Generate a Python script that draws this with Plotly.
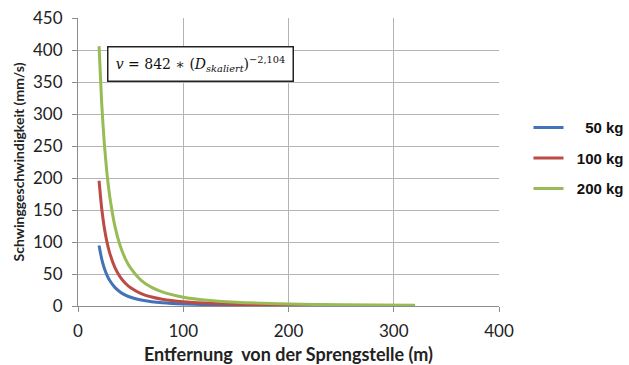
import plotly.graph_objects as go

# Distance from the blast point (m)
entfernung = [20, 22.5, 25, 27.5, 30, 35, 40, 45, 50, 60, 70, 80, 100, 120, 150, 200, 250, 320]

# Peak particle velocity (mm/s) per charge weight
v_50kg = [94.4, 73.7, 59.0, 48.3, 40.2, 29.1, 22.0, 17.1, 13.7, 9.35, 6.77, 5.11, 3.19, 2.18, 1.36, 0.74, 0.46, 0.28]
v_100kg = [195.7, 152.8, 122.4, 100.2, 83.5, 60.4, 45.6, 35.6, 28.5, 19.4, 14.0, 10.6, 6.62, 4.51, 2.82, 1.54, 0.96, 0.57]
v_200kg = [406.0, 316.9, 253.9, 207.8, 173.1, 125.2, 94.6, 73.8, 59.1, 40.2, 29.1, 22.0, 13.7, 9.36, 5.85, 3.20, 2.00, 1.19]

series = [
    ("\u2007\u00a0\u00a050 kg", v_50kg, "#4272B8"),
    ("\u00a0\u00a0100 kg", v_100kg, "#BC4A45"),
    ("\u00a0\u00a0200 kg", v_200kg, "#97BB55"),
]

fig = go.Figure()
for i, (name, vals, color) in enumerate(series):
    fig.add_trace(go.Scatter(
        x=entfernung, y=vals, name=name, mode="lines",
        line=dict(color=color, width=3, shape="spline", smoothing=0.6),
        legendgroup=f"g{i}",
    ))

grid = "#B4B4B4"
axis_font = dict(family="Lato", size=17, color="#222222")

fig.update_layout(
    width=629, height=365,
    margin=dict(l=78, r=130, t=18, b=59, autoexpand=False),
    paper_bgcolor="white", plot_bgcolor="white",
    font=dict(family="Lato", color="#222222"),
    xaxis=dict(
        range=[0, 400], dtick=100, tick0=0,
        showgrid=True, gridcolor=grid, gridwidth=1,
        showline=True, linecolor="#8C8C8C", linewidth=1,
        ticks="outside", ticklen=5, tickcolor="#8C8C8C",
        tickfont=axis_font, zeroline=False, ticklabelstandoff=5,
        title=dict(text="<b>Entfernung\u00a0\u00a0von der Sprengstelle (m)</b>",
                   font=dict(family="Lato", size=18, color="#222222"), standoff=10),
    ),
    yaxis=dict(
        range=[0, 450], dtick=50, tick0=0,
        showgrid=True, gridcolor=grid, gridwidth=1,
        showline=True, linecolor="#8C8C8C", linewidth=1,
        ticks="outside", ticklen=5, tickcolor="#8C8C8C",
        tickfont=axis_font, zeroline=False, ticklabelstandoff=6,
        title=dict(text="<b>Schwinggeschwindigkeit (mm/s)</b>",
                   font=dict(family="Lato", size=14, color="#222222"), standoff=5),
    ),
    legend=dict(
        x=1.07, xanchor="left", y=0.676, yanchor="top",
        font=dict(family="Liberation Sans", size=15, color="#111111", weight="bold"),
        tracegroupgap=8, bgcolor="rgba(0,0,0,0)",
    ),
    showlegend=True,
)

fig.add_annotation(
    xref="paper", yref="paper", x=0.292, y=0.842,
    xanchor="center", yanchor="middle",
    text="<i>v</i> = 842 \u2217 (<i>D</i><sub><i>skaliert</i></sub>)<sup>\u22122,104</sup>",
    showarrow=False,
    font=dict(family="DejaVu Serif", size=14, color="#111111"),
    bgcolor="white", bordercolor="#222222", borderwidth=1.5,
    width=182, height=31,
)

fig.write_html("out.html")
